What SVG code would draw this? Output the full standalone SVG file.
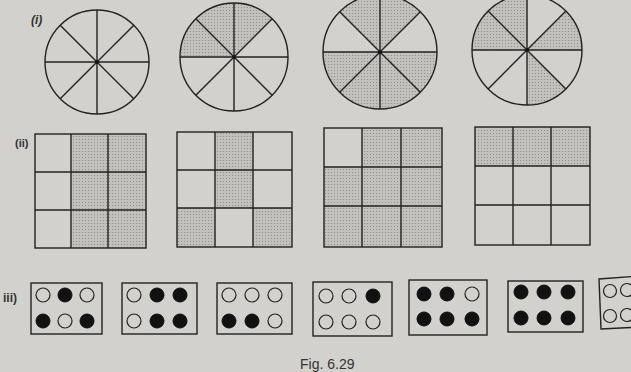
<svg xmlns="http://www.w3.org/2000/svg" width="631" height="372" viewBox="0 0 631 372">
<defs>
<pattern id="dots" width="3" height="3" patternUnits="userSpaceOnUse">
<rect width="3" height="3" fill="#c3c1bd"/>
<circle cx="1.5" cy="1.5" r="0.6" fill="#8a8884"/>
</pattern>
</defs>
<style>
.ln{stroke:#222;stroke-width:1.4;fill:none}
.sh{fill:url(#dots);stroke:none}
.o{fill:none;stroke:#222;stroke-width:1.2}
.f{fill:#111;stroke:#111;stroke-width:1}
.lbl{font-family:"Liberation Sans",Arial,sans-serif;fill:#333}
</style>
<rect width="631" height="372" fill="#d3d1cd"/>

<text class="lbl" x="31" y="24" font-size="12" font-style="italic" font-weight="bold">(i)</text>
<text class="lbl" x="15" y="147" font-size="11" font-weight="bold">(ii)</text>
<text class="lbl" x="3" y="302" font-size="12" font-weight="bold">iii)</text>
<text class="lbl" x="300" y="369" font-size="14">Fig. 6.29</text>

<!-- Circle 1 -->
<g id="circle1">
<circle class="ln" cx="97" cy="62" r="52"/>
<path class="ln" d="M45,62H149M97,10V114M60.23,25.23L133.77,98.77M133.77,25.23L60.23,98.77"/>
<circle cx="97" cy="62" r="1.6" fill="#111"/>
</g>

<!-- Circle 2 -->
<g id="circle2">
<path class="sh" d="M234,57L180,57A54,54 0 0 1 272.18,18.82Z"/>
<circle class="ln" cx="234" cy="57" r="54"/>
<path class="ln" d="M180,57H288M234,3V111M195.82,18.82L272.18,95.18M272.18,18.82L195.82,95.18"/>
<circle cx="234" cy="57" r="1.6" fill="#111"/>
</g>

<!-- Circle 3 -->
<g id="circle3">
<path class="sh" d="M380,52L339.69,11.69A57,57 0 0 1 420.31,11.69Z"/>
<path class="sh" d="M380,52L437,52A57,57 0 0 1 323,52Z"/>
<circle class="ln" cx="380" cy="52" r="57"/>
<path class="ln" d="M323,52H437M380,-5V109M339.69,11.69L420.31,92.31M420.31,11.69L339.69,92.31"/>
<circle cx="380" cy="52" r="1.6" fill="#111"/>
</g>

<!-- Circle 4 -->
<g id="circle4">
<path class="sh" d="M527,50L472,50A55,55 0 0 1 527,-5Z"/>
<path class="sh" d="M527,50L565.89,11.11A55,55 0 0 1 582,50Z"/>
<path class="sh" d="M527,50L565.89,88.89A55,55 0 0 1 527,105Z"/>
<circle class="ln" cx="527" cy="50" r="55"/>
<path class="ln" d="M472,50H582M527,-5V105M488.11,11.11L565.89,88.89M565.89,11.11L488.11,88.89"/>
<circle cx="527" cy="50" r="1.6" fill="#111"/>
</g>

<!-- Grid 1 -->
<g id="grid1">
<rect class="sh" x="71" y="134" width="75" height="114"/>
<rect class="ln" x="35" y="134" width="111" height="114"/>
<path class="ln" d="M71,134V248M108,134V248M35,172H146M35,210H146"/>
</g>

<!-- Grid 2 -->
<g id="grid2">
<rect class="sh" x="215" y="132" width="38" height="76"/>
<rect class="sh" x="177" y="208" width="38" height="39"/>
<rect class="sh" x="253" y="208" width="39" height="39"/>
<rect class="ln" x="177" y="132" width="115" height="115"/>
<path class="ln" d="M215,132V247M253,132V247M177,170H292M177,208H292"/>
</g>

<!-- Grid 3 -->
<g id="grid3">
<path class="sh" d="M362,128H442V247H324V167H362Z"/>
<rect class="ln" x="324" y="128" width="118" height="119"/>
<path class="ln" d="M362,128V247M401,128V247M324,167H442M324,206H442"/>
</g>

<!-- Grid 4 -->
<g id="grid4">
<rect class="sh" x="475" y="127" width="115" height="39"/>
<rect class="ln" x="475" y="127" width="115" height="118"/>
<path class="ln" d="M513,127V245M551,127V245M475,166H590M475,205H590"/>
</g>

<!-- Dot boxes -->
<g id="box1">
<rect class="ln" x="31" y="283" width="71" height="51"/>
<circle class="o" cx="43" cy="295" r="7"/><circle class="f" cx="65" cy="295" r="7"/><circle class="o" cx="87" cy="295" r="7"/>
<circle class="f" cx="43" cy="321" r="7"/><circle class="o" cx="65" cy="321" r="7"/><circle class="f" cx="87" cy="321" r="7"/>
</g>
<g id="box2">
<rect class="ln" x="122" y="283" width="75" height="51"/>
<circle class="o" cx="134" cy="295" r="7"/><circle class="f" cx="157" cy="295" r="7"/><circle class="f" cx="180" cy="295" r="7"/>
<circle class="o" cx="134" cy="321" r="7"/><circle class="f" cx="157" cy="321" r="7"/><circle class="f" cx="180" cy="321" r="7"/>
</g>
<g id="box3">
<rect class="ln" x="217" y="283" width="75" height="51"/>
<circle class="o" cx="229" cy="295" r="7"/><circle class="o" cx="252" cy="295" r="7"/><circle class="o" cx="275" cy="295" r="7"/>
<circle class="f" cx="229" cy="321" r="7"/><circle class="f" cx="252" cy="321" r="7"/><circle class="o" cx="275" cy="321" r="7"/>
</g>
<g id="box4">
<rect class="ln" x="313" y="282" width="79" height="54"/>
<circle class="o" cx="326" cy="296" r="7"/><circle class="o" cx="349" cy="296" r="7"/><circle class="f" cx="373" cy="296" r="7"/>
<circle class="o" cx="326" cy="322" r="7"/><circle class="o" cx="349" cy="322" r="7"/><circle class="o" cx="373" cy="322" r="7"/>
</g>
<g id="box5">
<rect class="ln" x="409" y="280" width="78" height="55"/>
<circle class="f" cx="424" cy="294" r="7"/><circle class="f" cx="447" cy="294" r="7"/><circle class="o" cx="472" cy="294" r="7"/>
<circle class="f" cx="424" cy="319" r="7"/><circle class="f" cx="447" cy="319" r="7"/><circle class="f" cx="472" cy="319" r="7"/>
</g>
<g id="box6">
<rect class="ln" x="508" y="281" width="75" height="51"/>
<circle class="f" cx="521" cy="292" r="7"/><circle class="f" cx="544" cy="292" r="7"/><circle class="f" cx="568" cy="292" r="7"/>
<circle class="f" cx="521" cy="318" r="7"/><circle class="f" cx="544" cy="318" r="7"/><circle class="f" cx="568" cy="318" r="7"/>
</g>
<g id="box7">
<path class="ln" d="M640,276L599,279L601,329L640,327"/>
<circle class="o" cx="610" cy="291" r="6.5"/><circle class="o" cx="627" cy="290" r="6.5"/>
<circle class="o" cx="610" cy="316" r="6.5"/><circle class="o" cx="627" cy="315" r="6.5"/>
</g>
</svg>
